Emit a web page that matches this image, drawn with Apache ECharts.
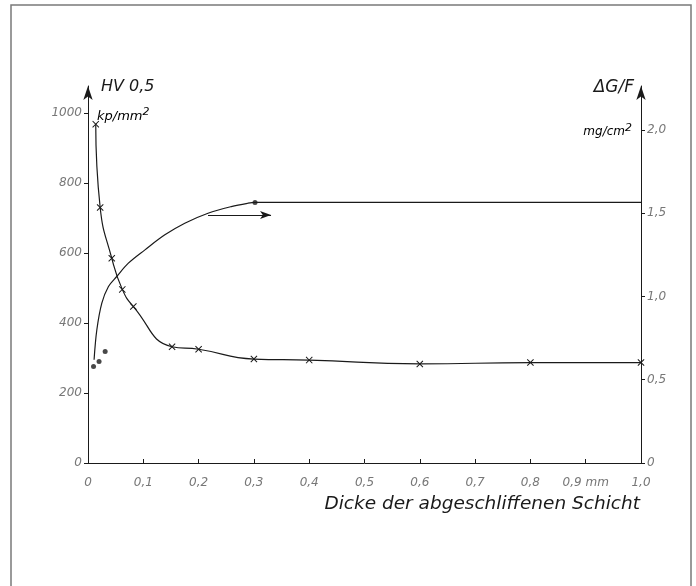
<!DOCTYPE html>
<html>
<head>
<meta charset="utf-8">
<script src="https://cdn.jsdelivr.net/npm/echarts@6/dist/echarts.min.js"></script>
<style>
  html, body { margin: 0; padding: 0; background: #fff; }
  #chart { width: 696px; height: 586px; }
</style>
</head>
<body>
<div id="chart"></div>
<script>
// tick values and their labels
const xTicks = [0, 0.1, 0.2, 0.3, 0.4, 0.5, 0.6, 0.7, 0.8, 0.9, 1.0];
const xTickLabels = ["0", "0,1", "0,2", "0,3", "0,4", "0,5", "0,6", "0,7", "0,8", "0,9 mm", "1,0"];
const hvTicks = [0, 200, 400, 600, 800, 1000];
const wearTicks = [0, 0.5, 1.0, 1.5, 2.0];
const wearTickLabels = ["0", "0,5", "1,0", "1,5", "2,0"];

// Härte HV 0,5 (Kreuze)
const hardnessX = [0.014, 0.022, 0.043, 0.062, 0.082, 0.152, 0.2, 0.3, 0.4, 0.6, 0.8, 1.0];
const hardnessHV = [968, 730, 585, 496, 447, 332, 325, 297, 294, 283, 287, 287];

// Gewichtsverlust ΔG/F, ausgeglichene Kurve
const wearCurveX = [0.011, 0.016, 0.025, 0.037, 0.052, 0.073, 0.103, 0.139, 0.175, 0.217, 0.259, 0.289, 0.302, 1.0];
const wearCurveG = [0.62, 0.80, 0.96, 1.06, 1.12, 1.20, 1.28, 1.37, 1.44, 1.50, 1.54, 1.56, 1.565, 1.565];

// Messpunkte ΔG/F (Punkte)
const wearDotsX = [0.010, 0.020, 0.031, 0.302];
const wearDotsG = [0.58, 0.61, 0.67, 1.565];

// Pfeil zur rechten Achse
const arrowFrom = [0.217, 1.49];
const arrowTo = [0.331, 1.49];

const FONT = "DejaVu Sans";
const INK = "#1a1a1a";
const LABEL = "#777";
const crossSymbol = "path://M1,0L5,4L9,0L10,1L6,5L10,9L9,10L5,6L1,10L0,9L4,5L0,1Z";

const chart = echarts.init(document.getElementById("chart"), null, { renderer: "canvas" });

const labelStyle = {
  color: LABEL,
  fontFamily: FONT,
  fontStyle: "italic",
  fontSize: 12
};

chart.setOption({
  animation: false,
  backgroundColor: "#fff",
  grid: { left: 88, right: 55, top: 86, bottom: 123 },
  xAxis: {
    type: "value",
    min: 0,
    max: 1,
    interval: 0.1,
    splitLine: { show: false },
    axisLine: { lineStyle: { color: INK, width: 1 } },
    axisTick: { inside: true, length: 4, customValues: xTicks, lineStyle: { color: INK } },
    axisLabel: Object.assign({}, labelStyle, {
      margin: 14,
      customValues: xTicks,
      formatter: v => xTickLabels[Math.round(v * 10)]
    })
  },
  yAxis: [
    {
      type: "value",
      position: "left",
      min: 0,
      max: 1077,
      splitLine: { show: false },
      axisLine: {
        show: true,
        symbol: ["none", "arrow"],
        symbolSize: [7, 14],
        lineStyle: { color: INK, width: 1 }
      },
      axisTick: { show: true, length: 4, customValues: hvTicks, lineStyle: { color: INK } },
      axisLabel: Object.assign({}, labelStyle, {
        margin: 6,
        customValues: hvTicks,
        formatter: v => String(v)
      })
    },
    {
      type: "value",
      position: "right",
      min: 0,
      max: 2.264,
      splitLine: { show: false },
      axisLine: {
        show: true,
        symbol: ["none", "arrow"],
        symbolSize: [7, 14],
        lineStyle: { color: INK, width: 1 }
      },
      axisTick: { show: true, length: 4, customValues: wearTicks, lineStyle: { color: INK } },
      axisLabel: Object.assign({}, labelStyle, {
        margin: 6,
        customValues: wearTicks,
        formatter: v => wearTickLabels[Math.round(v * 2)]
      })
    }
  ],
  series: [
    {
      name: "HV 0,5",
      type: "line",
      yAxisIndex: 0,
      data: hardnessX.map((x, i) => [x, hardnessHV[i]]),
      smooth: 0.5,
      symbol: crossSymbol,
      symbolSize: 7,
      showAllSymbol: true,
      lineStyle: { color: INK, width: 1.2 },
      itemStyle: { color: INK },
      silent: true
    },
    {
      name: "ΔG/F",
      type: "line",
      yAxisIndex: 1,
      data: wearCurveX.map((x, i) => [x, wearCurveG[i]]),
      smooth: 0.35,
      showSymbol: false,
      lineStyle: { color: INK, width: 1.2 },
      silent: true,
      markLine: {
        silent: true,
        symbol: ["none", "arrow"],
        symbolSize: [6, 11],
        label: { show: false },
        lineStyle: { color: INK, width: 1, type: "solid" },
        data: [[{ coord: arrowFrom }, { coord: arrowTo }]]
      }
    },
    {
      name: "ΔG/F Messpunkte",
      type: "scatter",
      yAxisIndex: 1,
      data: wearDotsX.map((x, i) => [x, wearDotsG[i]]),
      symbol: "circle",
      symbolSize: 5,
      itemStyle: { color: INK },
      silent: true
    }
  ],
  graphic: [
    {
      type: "polyline",
      silent: true,
      shape: { points: [[11, 586], [11, 5], [691, 5], [691, 586]] },
      style: { stroke: "#7a7a7a", lineWidth: 1.5, fill: null }
    },
    {
      type: "text",
      left: 101,
      top: 79,
      style: { text: "HV 0,5", fontFamily: FONT, fontStyle: "italic", fontSize: 16, fill: INK }
    },
    {
      type: "text",
      left: 97,
      top: 107,
      style: {
        text: "{a|kp/mm}{b|2}",
        rich: {
          a: { fontFamily: FONT, fontStyle: "italic", fontSize: 13, color: INK, padding: [3, 0, 0, 0] },
          b: { fontFamily: FONT, fontStyle: "italic", fontSize: 11, color: INK, verticalAlign: "top" }
        }
      }
    },
    {
      type: "text",
      right: 62,
      top: 79,
      style: { text: "ΔG/F", fontFamily: FONT, fontStyle: "italic", fontSize: 17, fill: INK }
    },
    {
      type: "text",
      right: 64,
      top: 123,
      style: {
        text: "{a|mg/cm}{b|2}",
        rich: {
          a: { fontFamily: FONT, fontStyle: "italic", fontSize: 12, color: INK, padding: [3, 0, 0, 0] },
          b: { fontFamily: FONT, fontStyle: "italic", fontSize: 11, color: INK, verticalAlign: "top" }
        }
      }
    },
    {
      type: "text",
      right: 56,
      top: 495,
      style: { text: "Dicke der abgeschliffenen Schicht", fontFamily: FONT, fontStyle: "italic", fontSize: 18.5, fill: INK }
    }
  ]
});
</script>
</body>
</html>
